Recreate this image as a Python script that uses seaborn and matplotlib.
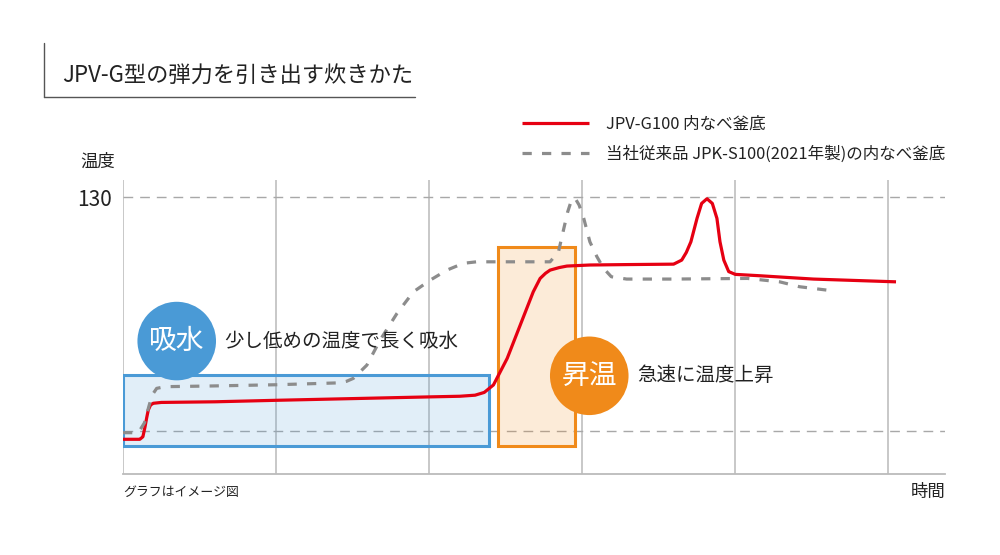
import matplotlib
matplotlib.use("Agg")
import matplotlib.pyplot as plt
from matplotlib.patches import Rectangle
from matplotlib.lines import Line2D
import pandas as pd
import seaborn as sns

# Data (time in grid units, temperature in deg C)
red_x = [0.0, 0.11, 0.13, 0.144, 0.155, 0.165, 0.18, 0.198, 0.25, 0.6, 1.0, 1.5, 2.0,
         2.2, 2.3, 2.36, 2.42, 2.51, 2.595, 2.68, 2.725, 2.76, 2.79, 2.85, 2.9, 3.05,
         3.3, 3.597, 3.65, 3.68, 3.71, 3.75, 3.78, 3.815, 3.85, 3.88, 3.90, 3.925,
         3.957, 4.0, 4.15, 4.51, 5.05]
red_y = [16.3, 16.3, 17.5, 22.2, 26.5, 30, 32.4, 33.2, 33.6, 33.9, 34.6, 35.4, 36.2,
         36.5, 37.0, 38.3, 41.8, 54.3, 69.9, 85.5, 91.8, 94.2, 95.7, 96.9, 97.6, 98.1,
         98.3, 98.5, 100.4, 104, 109, 120, 127, 129.2, 127, 120, 109, 100.4,
         95, 93.7, 93.1, 91.5, 90.2]

gray_x = [0.0, 0.1, 0.14, 0.17, 0.19, 0.22, 0.275, 0.56, 1.0, 1.418, 1.46, 1.505, 1.593,
          1.68, 1.79, 1.897, 2.007, 2.116, 2.224, 2.31, 2.5, 2.79, 2.845, 2.88, 2.905,
          2.93, 2.954, 2.98, 3.01, 3.05, 3.096, 3.14, 3.19, 3.29, 3.6, 4.08, 4.29,
          4.42, 4.6]
gray_y = [19.4, 19.4, 24, 32, 37, 40.2, 41, 41.3, 41.9, 42.8, 43.5, 44.9, 51.1,
          62.9, 75.4, 85.5, 91, 95.7, 98.9, 99.6, 99.6, 99.6, 104.3, 115.3, 123,
          128.6, 129.4, 126.2, 120, 109, 102, 96.5, 92.6, 91.5, 91.5, 91.8, 90.2,
          87.9, 86.3]

series_names = ["JPV-G100 内なべ釜底", "当社従来品 JPK-S100(2021年製)の内なべ釜底"]

# phase boxes: (x0, x1, y0, y1)
soak_box = (0.0, 2.39, 13.1, 46.3)
heat_box = (2.453, 2.954, 13.1, 106.6)
phase_labels = ["吸水", "昇温"]
phase_notes = ["少し低めの温度で長く吸水", "急速に温度上昇"]
phase_marks_x = [0.351, 3.046]
phase_marks_y = [62.4, 46.1]
note_x = [0.66, 3.357]

ref_lines = [20, 130]
v_grid = [0, 1, 2, 3, 4, 5]

df = pd.concat([
    pd.DataFrame({"time": red_x, "temp": red_y, "series": series_names[0]}),
    pd.DataFrame({"time": gray_x, "temp": gray_y, "series": series_names[1]}),
])

sns.set_style("white")
plt.rcParams["font.family"] = ["Noto Sans CJK JP", "DejaVu Sans"]

fig = plt.figure(figsize=(10, 5.55), dpi=100)
ax = fig.add_axes([0.123, 0.1459, 0.822, 0.5298])

blue = "#4a9ad6"
orange = "#f08a1a"
red = "#e60012"
gray = "#8c8c8c"
ink = "#222222"

# phase rectangles
x0, x1, y0, y1 = soak_box
ax.add_patch(Rectangle((x0, y0), x1 - x0, y1 - y0, facecolor=(74/255, 154/255, 214/255, 0.16),
                       edgecolor=blue, linewidth=2.2, zorder=1))
x0, x1, y0, y1 = heat_box
ax.add_patch(Rectangle((x0, y0), x1 - x0, y1 - y0, facecolor=(240/255, 138/255, 26/255, 0.17),
                       edgecolor=orange, linewidth=2.2, zorder=1))

for v in v_grid:
    ax.axvline(v, color="#c4c4c4", linewidth=1.3, zorder=0.5)
for h in ref_lines:
    ax.axhline(h, color="#a8a8a8", linewidth=1.0, linestyle=(0, (7, 5)), zorder=0.6)

sns.lineplot(data=df, x="time", y="temp", hue="series", style="series",
             palette=[red, gray], dashes=[(1, 0), (2.9, 3.2)], linewidth=2.3,
             sort=False, ax=ax, zorder=3)

ax.set_xlim(0, 5.37)
ax.set_ylim(0, 138)
ax.set_xticks([])
ax.set_yticks([130])
ax.set_yticklabels(["130"], fontsize=15, color=ink)
ax.tick_params(axis="y", length=0, pad=8)
ax.set_xlabel("")
ax.set_ylabel("")
for s in ["top", "right", "left"]:
    ax.spines[s].set_visible(False)
ax.spines["bottom"].set_color("#bbbbbb")
ax.spines["bottom"].set_linewidth(1.3)

# phase circles and notes
ax.scatter(phase_marks_x, phase_marks_y, s=3200, c=[blue, orange], zorder=5, linewidths=0)
for px, py, lab in zip(phase_marks_x, phase_marks_y, phase_labels):
    ax.text(px, py, lab, color="white", fontsize=20, ha="center", va="center", zorder=6)
for nx, py, note in zip(note_x, phase_marks_y, phase_notes):
    ax.text(nx, py, note, fontsize=14, color=ink, va="center", zorder=4)

# legend
leg = ax.legend(loc="upper left", bbox_to_anchor=(0.5217, 0.792), bbox_transform=fig.transFigure,
                frameon=False, fontsize=11.9, handlelength=4.06, handletextpad=1.03,
                labelspacing=0.81, borderpad=0, borderaxespad=0)
for t in leg.get_texts():
    t.set_color(ink)

# title block
fig.text(0.0617, 1 - 75 / 555, "JPV-G型の弾力を引き出す炊きかた", fontsize=16, color=ink,
         va="center", ha="left")
fig.add_artist(Line2D([0.044, 0.044], [1 - 43 / 555, 1 - 96.7 / 555], color="#555555", linewidth=1))
fig.add_artist(Line2D([0.044, 0.415], [1 - 96.7 / 555, 1 - 96.7 / 555], color="#555555", linewidth=1))

fig.text(0.080, 1 - 161.7 / 555, "温度", fontsize=12.5, color=ink, va="center")
fig.text(0.123, 1 - 492 / 555, "グラフはイメージ図", fontsize=9.3, color=ink, va="center")
fig.text(0.945, 1 - 492 / 555, "時間", fontsize=12.5, color=ink, va="center", ha="right")

fig.savefig("out.png", dpi=100)
